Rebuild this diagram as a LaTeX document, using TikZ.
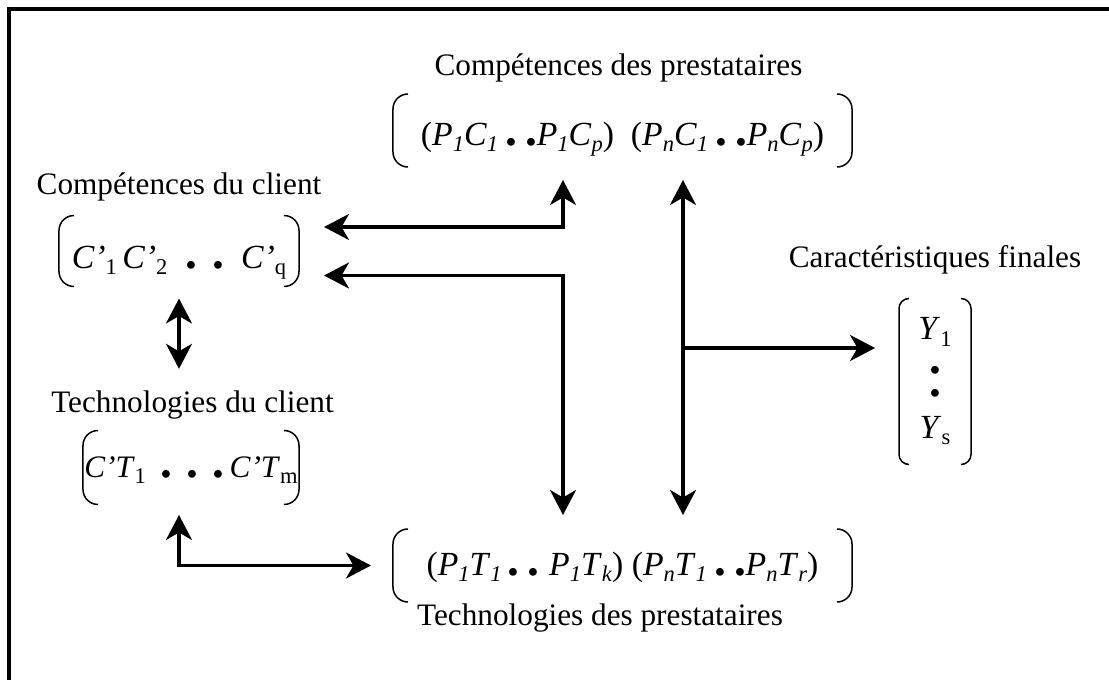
\documentclass[tikz,border=0pt]{standalone}
\usepackage{fontspec}
\setmainfont{Liberation Serif}
\usetikzlibrary{arrows.meta, calc}

\newcommand{\iv}[2]{\textit{#1}\raisebox{-2.6pt}{\fontsize{9}{9}\selectfont\textit{#2}}}
\newcommand{\uv}[2]{\textit{#1}\raisebox{-2.6pt}{\fontsize{9}{9}\selectfont #2}}
\newcommand{\bdot}{\makebox[3pt][c]{\fontsize{19}{19}\selectfont\textbf{.}}}
% round brackets on both sides of a matrix node
\newcommand{\brackets}[2]{%
  \draw[brk, rounded corners=#2] ([xshift=#2]#1.north west) -- (#1.north west)
    -- (#1.south west) -- ([xshift=#2]#1.south west);
  \draw[brk, rounded corners=#2] ([xshift=-#2]#1.north east) -- (#1.north east)
    -- (#1.south east) -- ([xshift=-#2]#1.south east);}

\tikzset{
  lbl/.style={font=\fontsize{12.5}{15}\selectfont, inner sep=0pt, anchor=base},
  mat/.style={font=\fontsize{13.5}{15}\selectfont, inner sep=0pt, outer sep=0pt,
              text depth=3pt},
  brk/.style={line width=0.6pt},
  link/.style={line width=1.3pt, >={Stealth[length=10pt, width=10.4pt, inset=3pt]}},
}

\begin{document}
\begin{tikzpicture}[x=0.4pt, y=-0.4pt]
\useasboundingbox (0,0) rectangle (1109,680);

% frame
\draw[line width=1.6pt] (9,680) |- (1109,9);

% ===== Labels =====
\node[lbl] (topl) at (618.5,76) {Compétences des prestataires};
\node[lbl] (clientl) at (179,195) {Compétences du client};
\node[lbl] (ctechl) at (192.5,412) {Technologies du client};
\node[lbl] (botl) at (600,625) {Technologies des prestataires};
\node[lbl] (yl) at (935,267) {Caractéristiques finales};

% ===== Matrices =====
\node[mat, text height=14.6pt, minimum width=183.6pt, minimum height=29.2pt]
  (topm) at (622.5,130.5)
  {(\iv{P}{1}\iv{C}{1}\hspace{4pt}\bdot\hspace{5pt}\bdot\hspace{0.5pt}\iv{P}{1}\iv{C}{p})\enspace
   (\iv{P}{n}\iv{C}{1}\hspace{4pt}\bdot\hspace{5pt}\bdot\hspace{0.5pt}\iv{P}{n}\iv{C}{p})};
\node[mat, text height=16.6pt, minimum width=96pt, minimum height=28.4pt]
  (client) at (179,251)
  {\uv{C’}{1}\,\uv{C’}{2}\hspace{8pt}\bdot\hspace{8pt}\bdot\hspace{7.5pt}\uv{C’}{q}};
\node[mat, font=\fontsize{12.5}{15}\selectfont, text height=10.6pt,
      minimum width=86.4pt, minimum height=29.6pt] (ctech) at (191,467.5)
  {\uv{C’T}{1}\hspace{6.5pt}\bdot\hspace{7.5pt}\bdot\hspace{7.5pt}\bdot\hspace{3pt}\uv{C’T}{m}};
\node[mat, text height=10.6pt, minimum width=183.6pt, minimum height=29.2pt]
  (botm) at (622.5,565.5)
  {(\iv{P}{1}\iv{T}{1}\hspace{3pt}\bdot\hspace{5pt}\bdot\hspace{5pt}\iv{P}{1}\iv{T}{k})\ %
   (\iv{P}{n}\iv{T}{1}\hspace{4pt}\bdot\hspace{5pt}\bdot\hspace{0.5pt}\iv{P}{n}\iv{T}{r})};
\node[mat, text height=, text depth=, align=center, minimum width=28.8pt,
      minimum height=66.4pt] (ymat) at (935,381.5)
  {\uv{Y}{1}\\[-1.6pt]\bdot\\[-5.8pt]\bdot\\[1.8pt]\uv{Y}{s}};

\brackets{topm}{6pt}
\brackets{client}{6pt}
\brackets{ctech}{6pt}
\brackets{botm}{6pt}
\brackets{ymat}{4pt}

% ===== Connectors =====
\draw[link, <->, shorten <=10pt, shorten >=5.2pt]
  ([yshift=9.6pt]client.east) -| ([xshift=-23.8pt]topm.south);
\draw[link, <->, shorten <=10pt, shorten >=5.6pt]
  ([yshift=-9.8pt]client.east) -| ([xshift=-23.8pt]botm.north);
\draw[link, <->, shorten <=5.2pt, shorten >=5.6pt]
  ([xshift=24.2pt]topm.south) -- coordinate (branch) ([xshift=24.2pt]botm.north);
\draw[link, ->, shorten >=9.6pt] (branch) -- (branch -| ymat.west);
\draw[link, <->, shorten <=4.8pt, shorten >=8.4pt]
  (client.south) -- (client.south |- ctechl.north);
\draw[link, <->, shorten <=4.2pt, shorten >=8.8pt]
  ([xshift=-4.8pt]ctech.south) |- (botm.west);

\end{tikzpicture}
\end{document}
